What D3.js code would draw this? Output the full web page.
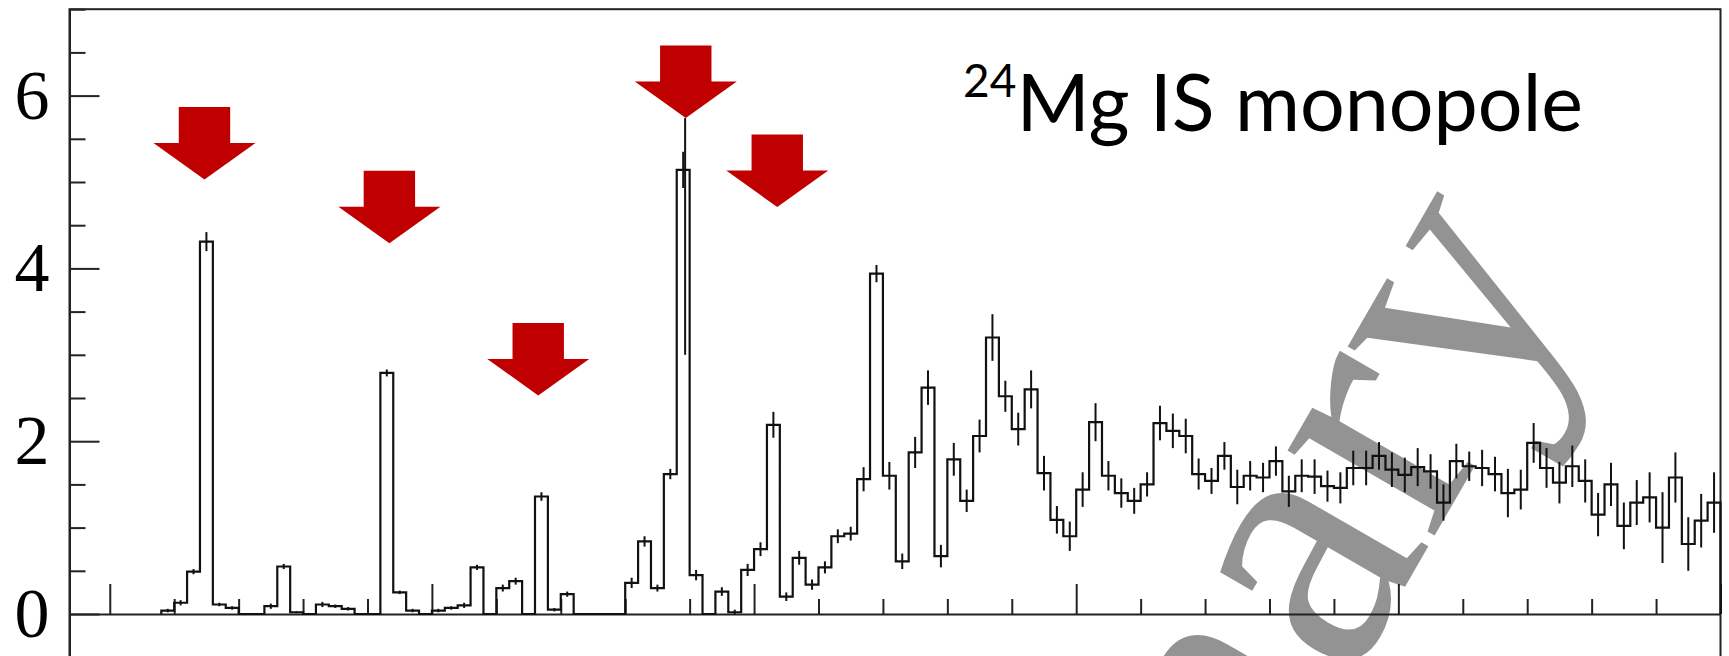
<!DOCTYPE html>
<html>
<head>
<meta charset="utf-8">
<script src="https://cdn.jsdelivr.net/npm/d3@7"></script>
<style>
  body { margin: 0; background: #fff; }
  svg { display: block; }
</style>
</head>
<body>
<svg id="chart" width="1729" height="656"></svg>
<script>
// spectrum, 0.2 wide bins, first bin starts at 10.8
var binStart = 10.8;
var binWidth = 0.2;
var counts = [
  0.04, 0.13, 0.49, 4.31, 0.11, 0.07,
  0, 0, 0.09, 0.55, 0.02, 0, 0.11, 0.09, 0.06, 0,
  0, 2.79, 0.25, 0.04, 0, 0.04, 0.07, 0.10, 0.54, 0,
  0.30, 0.38, 0, 1.36, 0.05, 0.23, 0, 0, 0, 0,
  0.36, 0.84, 0.30, 1.62, 5.14, 0.45, 0, 0.26, 0.02, 0.51,
  0.75, 2.19, 0.20, 0.65, 0.34, 0.54, 0.90, 0.93, 1.56, 3.94,
  1.60, 0.61, 1.87, 2.62, 0.67, 1.79, 1.31, 2.06, 3.20, 2.52,
  2.14, 2.60, 1.63, 1.09, 0.90, 1.44, 2.22, 1.60, 1.40, 1.31,
  1.50, 2.21, 2.12, 2.06, 1.62, 1.54, 1.83, 1.47, 1.60, 1.58,
  1.77, 1.42, 1.60, 1.59, 1.48, 1.46, 1.69, 1.69, 1.83, 1.67,
  1.61, 1.70, 1.65, 1.29, 1.77, 1.71, 1.69, 1.62, 1.40, 1.44,
  1.98, 1.69, 1.52, 1.71, 1.54, 1.15, 1.50, 1.02, 1.29, 1.35,
  1.00, 1.58, 0.81, 1.08, 1.29
];
var errors = [
  0.02, 0.03, 0.03, 0.11, 0.02, 0.02,
  0, 0, 0.03, 0.03, 0.01, 0, 0.03, 0.02, 0.02, 0,
  0, 0.04, 0.02, 0.02, 0, 0.02, 0.02, 0.03, 0.03, 0,
  0.04, 0.04, 0, 0.05, 0.02, 0.03, 0, 0, 0, 0,
  0.06, 0.06, 0.04, 0.06, 0.21, 0.06, 0, 0.05, 0.03, 0.07,
  0.08, 0.15, 0.05, 0.08, 0.06, 0.07, 0.08, 0.08, 0.14, 0.10,
  0.16, 0.09, 0.18, 0.20, 0.13, 0.19, 0.13, 0.19, 0.27, 0.18,
  0.19, 0.22, 0.20, 0.16, 0.17, 0.20, 0.22, 0.17, 0.17, 0.15,
  0.14, 0.20, 0.20, 0.20, 0.18, 0.15, 0.16, 0.20, 0.17, 0.17,
  0.17, 0.18, 0.19, 0.20, 0.18, 0.18, 0.20, 0.20, 0.16, 0.20,
  0.20, 0.22, 0.20, 0.21, 0.20, 0.17, 0.21, 0.20, 0.28, 0.23,
  0.23, 0.23, 0.24, 0.24, 0.25, 0.25, 0.25, 0.27, 0.26, 0.29,
  0.41, 0.29, 0.31, 0.31, 0.35
];

// red arrows: where they point (energy, height)
var arrowE = [11.47, 14.34, 16.65, 18.94, 20.36];
var arrowV = [5.03, 4.29, 2.53, 5.74, 4.71];

// thin line under the big arrow, down into the 18.9 peak
var peakLine = { e: 18.93, from: 3.0, to: 5.74 };

var yLabelValues = [0, 2, 4, 6];
var titleMass = "24";
var titleText = "Mg IS monopole";
var watermark = "Preliminary";

var svg = d3.select("#chart");

var x = d3.scaleLinear().domain([9.375, 35]).range([69.5, 1720.5]);
var y = d3.scaleLinear().domain([-1, 7]).range([700.4, 9.2]);

// watermark first, it sits under everything
svg.append("text")
  .attr("transform", "translate(1585,275) rotate(-60)")
  .attr("text-anchor", "end")
  .attr("font-family", "Liberation Serif")
  .attr("font-size", 370)
  .attr("fill", "#939393")
  .text(watermark);

// frame
svg.append("rect")
  .attr("x", x(9.375)).attr("y", y(7))
  .attr("width", x(35) - x(9.375))
  .attr("height", y(-1) - y(7))
  .attr("fill", "none")
  .attr("stroke", "#222")
  .attr("stroke-width", 2);

// y axis, ticks pointing in
var yAxis = svg.append("g")
  .attr("transform", "translate(" + x(9.375) + ",0)")
  .call(d3.axisLeft(y)
    .tickValues(d3.range(-1, 7.01, 0.5))
    .tickSize(-16)
    .tickSizeOuter(0)
    .tickPadding(20)
    .tickFormat(d => yLabelValues.indexOf(d) >= 0 ? d : ""));
yAxis.select(".domain").attr("stroke", "#222").attr("stroke-width", 2);
yAxis.selectAll(".tick line")
  .attr("stroke", "#222").attr("stroke-width", 2)
  .attr("x2", d => d % 2 === 0 ? 30 : 16);
yAxis.selectAll(".tick text")
  .attr("font-family", "Liberation Serif")
  .attr("font-size", 70)
  .attr("fill", "#000");

// x axis drawn along zero
var xAxis = svg.append("g")
  .attr("transform", "translate(0," + y(0) + ")")
  .call(d3.axisBottom(x)
    .tickValues(d3.range(10, 35.01, 1))
    .tickSize(-15)
    .tickSizeOuter(0)
    .tickFormat(""));
xAxis.select(".domain").attr("stroke", "#222").attr("stroke-width", 2);
xAxis.selectAll(".tick line")
  .attr("stroke", "#222").attr("stroke-width", 2)
  .attr("y2", d => d % 5 === 0 ? -30 : -15);

// histogram outline
var bins = counts.map((v, i) => ({
  lo: binStart + i * binWidth,
  hi: binStart + (i + 1) * binWidth,
  v: v,
  e: errors[i]
}));
var pts = [[binStart, 0]];
bins.forEach(b => { pts.push([b.lo, b.v]); pts.push([b.hi, b.v]); });
pts.push([bins[bins.length - 1].hi, 0]);

svg.append("path")
  .attr("d", d3.line().x(d => x(d[0])).y(d => y(d[1]))(pts))
  .attr("fill", "none")
  .attr("stroke", "#111")
  .attr("stroke-width", 2.2);

// error bars
svg.append("g").selectAll("line")
  .data(bins.filter(b => b.v > 0 && b.e > 0))
  .enter().append("line")
  .attr("x1", b => x((b.lo + b.hi) / 2))
  .attr("x2", b => x((b.lo + b.hi) / 2))
  .attr("y1", b => y(b.v - b.e))
  .attr("y2", b => y(b.v + b.e))
  .attr("stroke", "#111")
  .attr("stroke-width", 2);

svg.append("line")
  .attr("x1", x(peakLine.e)).attr("x2", x(peakLine.e))
  .attr("y1", y(peakLine.from)).attr("y2", y(peakLine.to))
  .attr("stroke", "#111")
  .attr("stroke-width", 2);

// arrows
var arrowShape = "M-25.7,-72.5 L25.7,-72.5 L25.7,-36.5 L51,-36.5 L0,0 L-51,-36.5 L-25.7,-36.5 Z";
svg.append("g").selectAll("path")
  .data(arrowE)
  .enter().append("path")
  .attr("d", arrowShape)
  .attr("transform", (d, i) => "translate(" + x(d) + "," + y(arrowV[i]) + ")")
  .attr("fill", "#c00000");

// title
var title = svg.append("text")
  .attr("x", 963).attr("y", 131)
  .attr("font-family", "Lato")
  .attr("fill", "#000");
title.append("tspan")
  .attr("font-size", 46)
  .attr("dy", -34)
  .text(titleMass);
title.append("tspan")
  .attr("font-size", 79)
  .attr("dy", 34)
  .text(titleText);
</script>
</body>
</html>
